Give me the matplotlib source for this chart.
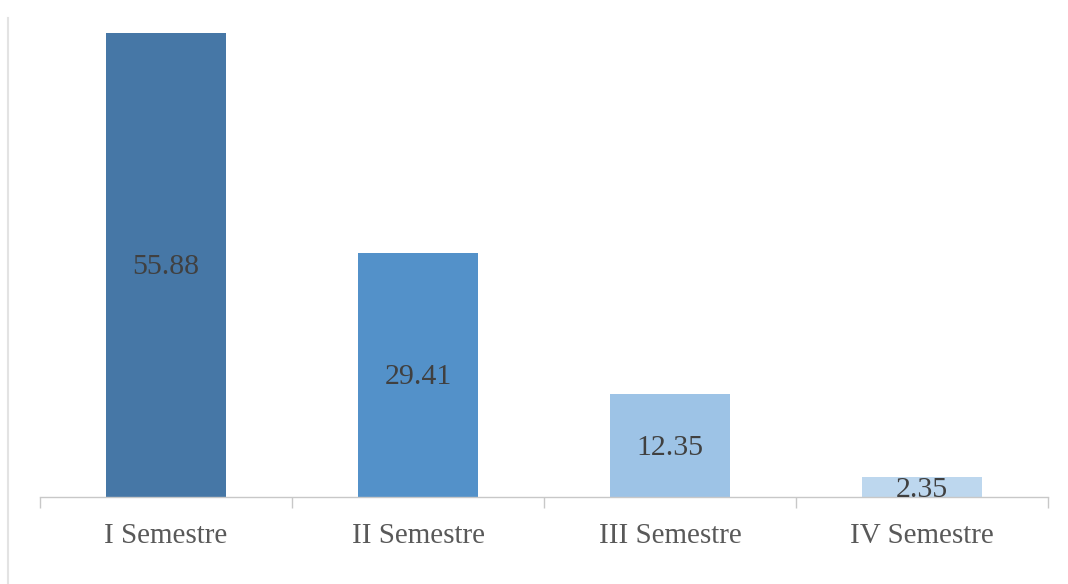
import matplotlib
import matplotlib.pyplot as plt
from matplotlib.lines import Line2D

matplotlib.use('Agg')

categories = ['I Semestre', 'II Semestre', 'III Semestre', 'IV Semestre']
values = [55.88, 29.41, 12.35, 2.35]
colors = ['#4677a6', '#5391c9', '#9dc3e6', '#bdd7ee']

plt.rcParams['font.family'] = ['Liberation Serif', 'DejaVu Serif']

fig = plt.figure(figsize=(10.68, 5.84), dpi=100)
ax = fig.add_axes([40 / 1068, 87 / 584, 1008 / 1068, 464 / 584])

x = range(len(categories))
bars = ax.bar(x, values, width=0.476, color=colors, zorder=2)

# value labels centered in each bar (slightly below middle, like the original)
for bar, v in zip(bars, values):
    ax.text(bar.get_x() + bar.get_width() / 2, v / 2 - 0.3, f'{v:.2f}',
            ha='center', va='center', fontsize=21.5, color='#404040', zorder=3)

ax.set_xlim(-0.5, len(categories) - 0.5)
ax.set_ylim(0, max(values))
ax.set_yticks([])
ax.set_xticks(list(x))
ax.set_xticklabels(categories, fontsize=21, color='#595959')
ax.set_xticks([i - 0.5 for i in range(len(categories) + 1)], minor=True)
ax.tick_params(axis='x', which='major', length=0, pad=19)
ax.tick_params(axis='x', which='minor', length=8, width=1, color='#c8c8c8')

for side in ['top', 'right', 'left']:
    ax.spines[side].set_visible(False)
ax.spines['bottom'].set_color('#c8c8c8')
ax.spines['bottom'].set_linewidth(1)

# faint vertical border on the left edge
fig.add_artist(Line2D([8 / 1068, 8 / 1068], [0, 1 - 18 / 584],
                      transform=fig.transFigure, color='#e3e3e3', lw=1.5))

fig.savefig('out.png', dpi=100)
